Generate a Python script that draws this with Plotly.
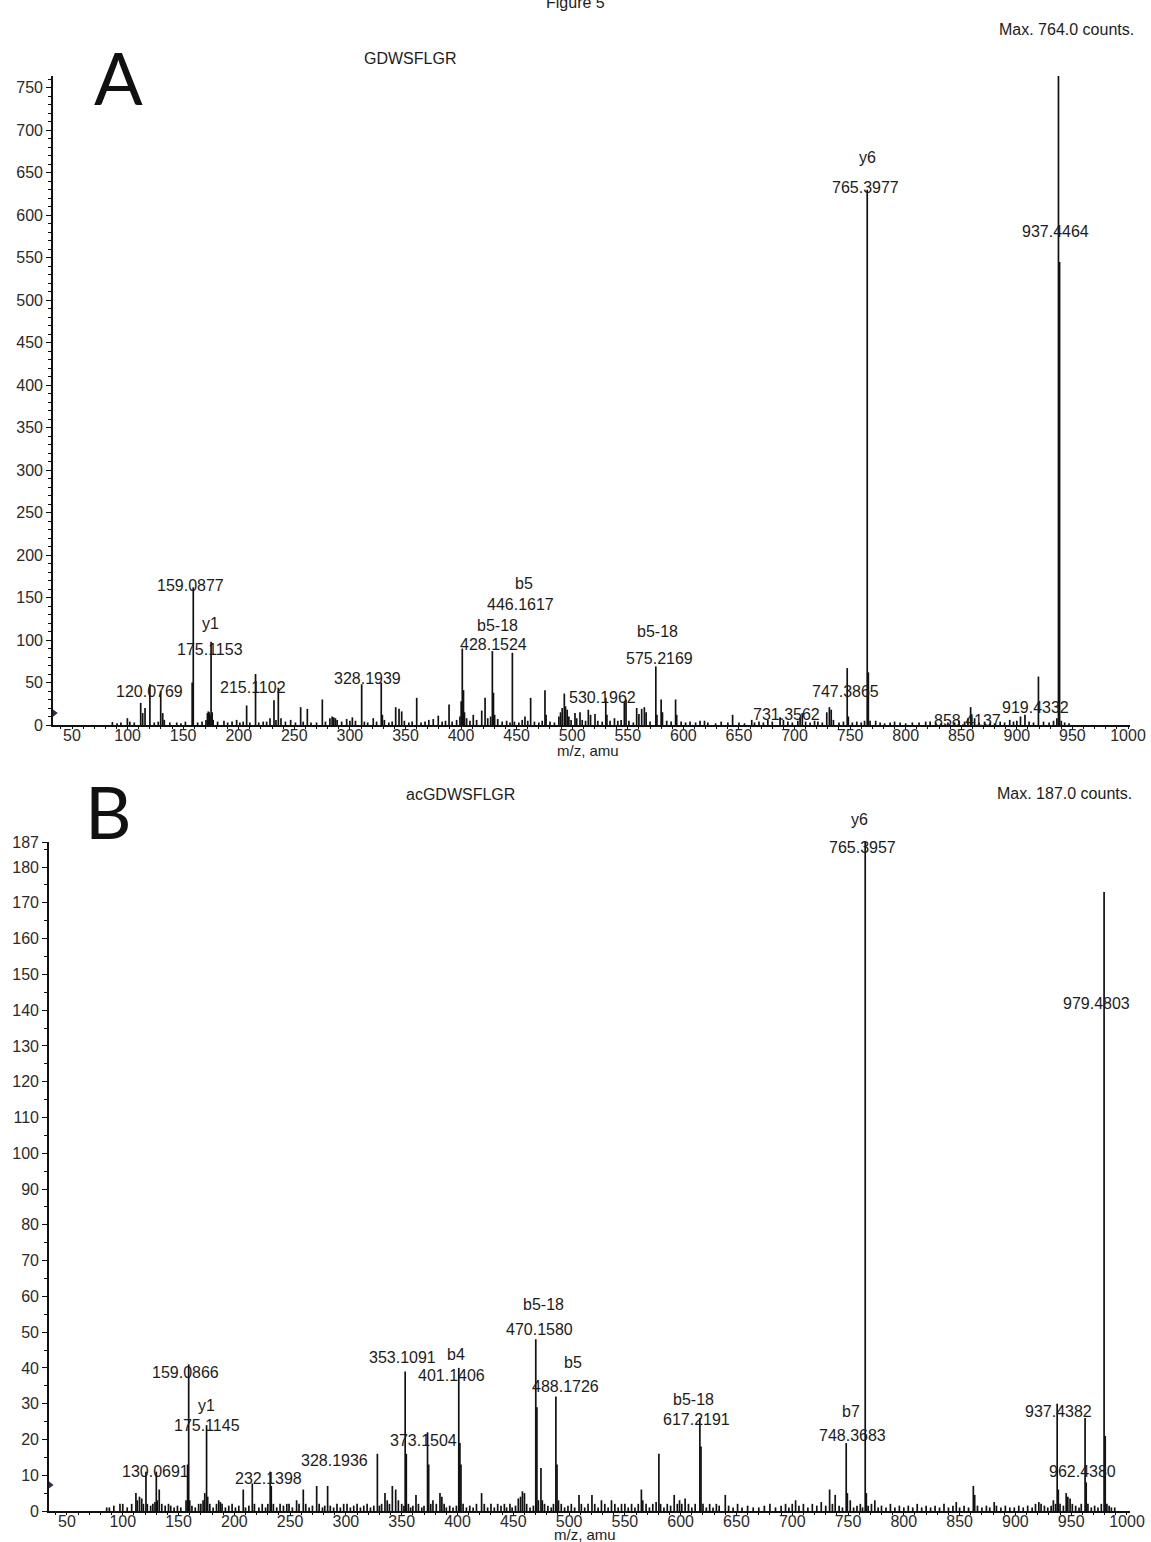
import plotly.graph_objects as go

W, H = 1151, 1542
FONT = "Liberation Sans, Arial, sans-serif"
INK = "#1c1c1c"

# ---------------- Spectrum A: GDWSFLGR (peak m/z, counts) ----------------
a_mz = [
    86.3, 90.5, 94.0, 99.8, 102.0, 106.0, 111.8, 113.6, 115.7, 120.0769, 124.0, 127.6, 129.8, 131.6, 133.0,
    138.0, 144.2, 148.0, 152.0, 158.1, 159.0877, 163.0, 167.0, 170.5, 171.8, 172.6, 173.4, 174.2, 175.1153,
    176.1, 177.0, 181.0, 186.7, 190.0, 194.0, 198.1, 201.0, 204.0, 207.1, 210.0, 215.1102, 218.0, 222.0,
    225.1, 228.1, 231.7, 233.5, 235.6, 238.0, 242.0, 246.7, 251.0, 255.7, 258.0, 261.7, 265.0, 270.0,
    275.2, 278.0, 282.0, 284.0, 285.5, 287.0, 288.5, 292.6, 297.1, 300.0, 302.2, 305.0, 310.6, 313.0,
    316.0, 321.0, 324.0, 328.1939, 329.2, 331.0, 335.0, 338.0, 341.2, 344.2, 346.6, 349.0, 353.0, 356.0,
    360.1, 364.0, 367.6, 371.0, 375.0, 379.5, 383.0, 386.0, 389.2, 392.0, 396.0, 399.0, 400.1, 401.1,
    402.2, 403.1, 405.0, 408.0, 411.0, 414.0, 418.6, 421.6, 424.0, 426.6, 428.1524, 429.15, 430.2, 433.0,
    437.0, 441.0, 444.0, 446.1617, 448.0, 452.0, 455.0, 457.5, 460.0, 462.6, 466.0, 470.0, 473.0, 475.5,
    476.5, 480.0, 484.0, 488.0, 489.5, 491.0, 492.9, 494.0, 495.5, 497.0, 499.0, 502.5, 504.0, 507.0,
    509.0, 512.0, 514.5, 516.5, 520.5, 523.0, 527.0, 530.1962, 531.2, 534.0, 538.0, 541.0, 544.0, 546.9,
    548.4, 551.0, 555.0, 558.0, 560.0, 562.5, 564.9, 566.5, 570.0, 575.2169, 576.2, 580.0, 581.2, 585.0,
    589.0, 593.0, 594.0, 598.0, 602.0, 606.0, 611.0, 615.0, 619.0, 622.0, 629.0, 634.0, 640.0, 644.3,
    650.0, 655.0, 661.5, 664.0, 668.0, 672.0, 676.0, 680.0, 687.0, 690.0, 694.0, 698.0, 703.0, 705.0,
    707.0, 710.0, 714.0, 718.0, 721.0, 725.0, 729.0, 731.3562, 733.0, 735.0, 740.0, 744.0, 747.3865,
    748.4, 752.0, 756.0, 760.0, 763.0, 765.3977, 766.4, 768.0, 773.0, 777.0, 781.0, 786.0, 790.0, 795.0,
    800.0, 806.0, 812.0, 818.0, 822.0, 827.0, 832.0, 838.0, 844.0, 848.0, 853.0, 856.0, 858.4137, 859.4,
    862.0, 866.0, 871.0, 876.0, 880.0, 885.0, 889.0, 893.6, 897.0, 900.0, 903.3, 907.3, 911.0, 915.0,
    919.4332, 924.0, 929.0, 933.0, 936.0, 937.4464, 938.45, 940.0, 943.0, 947.0,
]
a_counts = [
    3.5, 2, 3, 8, 4, 3, 26, 14, 20, 48, 3, 4, 40, 14, 6,
    3, 3, 2, 4, 50, 162, 3, 4, 6, 14, 16, 15, 12, 98,
    15, 6, 4, 5, 3, 4, 6, 3, 4, 23, 3, 60, 3, 4,
    4, 8, 29, 6, 44, 8, 4, 6, 3, 21, 4, 19, 3, 3,
    30, 4, 8, 10, 9, 8, 6, 4, 7, 5, 9, 5, 48, 4,
    3, 8, 4, 50, 12, 6, 3, 4, 21, 19, 16, 5, 3, 4,
    32, 3, 4, 6, 7, 11, 4, 5, 24, 4, 6, 10, 28, 90,
    41, 15, 8, 5, 12, 6, 17, 32, 8, 10, 87, 38, 12, 7,
    4, 5, 3, 85, 4, 3, 6, 10, 5, 32, 4, 3, 5, 41,
    12, 4, 3, 10, 15, 20, 37, 22, 18, 10, 6, 14, 8, 15,
    6, 5, 18, 12, 13, 5, 4, 32, 12, 5, 8, 5, 6, 27,
    30, 5, 3, 20, 13, 19, 21, 15, 4, 69, 12, 30, 15, 5,
    4, 30, 12, 4, 3, 4, 3, 5, 5, 3, 2, 4, 3, 12,
    3, 2, 6, 3, 4, 3, 6, 4, 9, 6, 4, 3, 5, 9,
    14, 4, 3, 5, 4, 3, 15, 21, 18, 6, 3, 4, 67,
    10, 3, 4, 3, 5, 630, 62, 5, 5, 3, 2, 3, 4, 3,
    2, 3, 3, 4, 4, 3, 2, 3, 3, 5, 4, 8, 21, 12,
    8, 3, 4, 3, 2, 4, 3, 6, 4, 5, 10, 12, 4, 3,
    57, 4, 3, 5, 8, 764, 545, 5, 3, 2,
]
a_label_mz = [120.0769, 159.0877, 175.1153, 215.1102, 328.1939, 428.1524, 446.1617, 530.1962,
              575.2169, 731.3562, 747.3865, 765.3977, 858.4137, 919.4332, 937.4464]
a_label_ion = ["", "", "y1", "", "", "b5-18", "b5", "", "b5-18", "", "", "y6", "", "", ""]

# ---------------- Spectrum B: acGDWSFLGR (peak m/z, counts) ----------------
b_mz = [
    85.6, 88.0, 92.0, 97.5, 100.0, 104.0, 108.0, 111.8, 113.0, 115.0, 117.0, 118.5, 120.8, 122.0, 125.0,
    127.0, 128.9, 130.0691, 131.0, 132.7, 135.0, 138.0, 141.0, 143.0, 146.0, 149.0, 152.0, 156.7, 158.1,
    159.0866, 160.0, 162.0, 165.0, 168.0, 170.0, 172.0, 173.5, 175.1145, 176.1, 178.0, 181.0, 184.0,
    186.0, 187.5, 189.0, 192.0, 195.0, 198.0, 201.0, 204.0, 208.0, 210.0, 213.0, 216.1, 218.0, 222.0,
    225.0, 228.0, 230.0, 232.1398, 233.1, 235.0, 238.0, 241.0, 244.0, 247.0, 249.0, 252.0, 255.8, 258.0,
    261.8, 264.0, 267.0, 270.0, 273.8, 276.0, 279.0, 281.0, 283.6, 286.0, 289.0, 292.0, 295.0, 298.0,
    301.0, 304.0, 307.0, 310.0, 313.0, 316.0, 319.0, 322.0, 325.0, 328.1936, 330.0, 332.0, 335.0, 337.0,
    339.0, 341.6, 344.6, 347.0, 350.0, 352.0, 353.1091, 354.11, 356.0, 358.0, 360.0, 362.8, 365.0, 368.0,
    370.0, 373.1504, 374.15, 376.0, 378.0, 381.0, 384.3, 386.0, 388.0, 390.0, 393.0, 396.0, 399.0,
    401.1406, 402.14, 403.1, 405.0, 408.0, 411.0, 414.0, 417.0, 421.6, 424.0, 427.0, 430.0, 433.0, 436.0,
    439.0, 442.0, 444.0, 447.0, 449.0, 452.0, 454.5, 456.5, 458.2, 460.0, 462.0, 465.0, 468.0, 470.158,
    471.16, 472.5, 474.8, 476.0, 478.0, 481.0, 484.0, 486.0, 488.1726, 489.17, 490.5, 493.0, 496.0, 499.0,
    502.0, 505.0, 508.9, 511.0, 514.0, 517.0, 520.5, 523.0, 526.0, 529.0, 532.0, 535.0, 538.0, 541.0,
    544.0, 547.0, 550.0, 553.0, 556.0, 559.0, 562.0, 564.8, 566.0, 569.0, 572.0, 575.0, 578.0, 580.5,
    582.0, 585.0, 588.0, 591.0, 594.2, 597.0, 599.0, 601.0, 604.0, 607.0, 610.0, 613.0, 617.2191, 618.22,
    620.0, 623.0, 626.0, 629.0, 632.0, 634.5, 640.0, 643.0, 647.0, 651.0, 655.0, 660.0, 665.0, 670.0,
    675.0, 680.0, 685.0, 690.0, 694.0, 697.0, 700.0, 703.0, 706.0, 710.0, 714.0, 718.0, 722.0, 726.0,
    730.0, 733.5, 736.0, 738.5, 742.0, 745.0, 748.3683, 749.4, 752.0, 755.0, 758.0, 761.0, 763.0,
    765.3957, 766.4, 768.0, 771.0, 774.0, 777.0, 780.0, 784.0, 788.0, 792.0, 796.0, 800.0, 804.0, 808.0,
    812.0, 816.0, 820.0, 824.0, 828.0, 832.0, 836.0, 840.0, 844.0, 847.0, 850.0, 854.0, 858.0, 862.3,
    863.5, 866.0, 870.0, 874.0, 877.0, 881.0, 883.0, 887.0, 891.0, 895.0, 899.0, 903.0, 907.0, 911.0,
    915.0, 918.0, 921.0, 923.0, 926.0, 929.0, 932.0, 934.0, 936.0, 937.4382, 938.44, 940.0, 943.0,
    945.5, 947.0, 949.0, 951.0, 954.0, 957.0, 959.0, 962.438, 963.44, 965.0, 968.0, 971.0, 974.0, 977.0,
    979.4803, 980.48, 982.0, 984.0, 986.0, 989.0,
]
b_counts = [
    1, 1, 1.5, 2, 2, 1, 2, 5, 3, 4, 3.5, 2, 11, 2, 1.5,
    2, 2.5, 11, 3, 6, 2, 1.5, 2, 1.5, 1, 1.5, 1, 3, 13,
    41, 3, 1.5, 1, 2, 2, 3, 5, 24, 4, 2, 1, 2,
    3, 2.5, 2, 1, 1.5, 2, 1, 1.5, 6, 1, 1.5, 7.7, 2, 1,
    2, 1, 2, 11, 7, 2, 1, 2, 1.5, 2, 2, 1, 3, 2,
    6, 2, 1, 1.5, 7, 2, 1, 1.5, 7, 1.5, 1, 2, 1, 2,
    2, 1, 1.5, 2, 1, 1.5, 2, 1, 1.5, 16, 1.5, 2, 5, 3,
    2, 7, 6, 3, 2, 1.5, 39, 16, 2, 1, 1.5, 4.5, 2, 1,
    1.5, 22, 13, 2, 3, 2, 5, 4, 2, 1, 1.5, 1, 1.5,
    40, 19, 13, 2, 1, 1.5, 1, 2, 5, 2, 1, 2, 1, 2,
    1.5, 2, 1, 2, 1, 1.5, 3.5, 4, 5.5, 5, 2, 1, 1.5, 48,
    29, 3, 12, 3, 2, 1.5, 1, 2, 32, 13, 3, 2, 1, 1.5,
    2, 1, 4.5, 2, 1, 2, 4.5, 2, 1, 3, 2, 1, 3, 2,
    1, 2, 2, 1, 2, 1, 2, 6, 3, 2, 1, 2, 2.5, 16,
    2, 1, 2, 1.5, 4.5, 2, 3, 2, 3.5, 2, 1, 2, 26, 18,
    2, 1, 2, 1, 2, 1.5, 4.5, 1.5, 1, 2, 1, 1.5, 1, 1,
    1.5, 2, 1, 1.5, 2, 1, 2, 3, 1.5, 2, 1, 2, 1.5, 2.5,
    1.5, 6, 2, 4.5, 1.5, 1, 19, 5, 3, 1, 1.5, 2, 1,
    187, 5, 1.5, 2, 3, 1, 1.5, 1, 2, 1, 1.5, 1, 1.5, 1,
    2, 1, 1.5, 1, 1.5, 1, 2, 1, 1.5, 2.5, 1, 1.5, 1, 7,
    4.5, 1.5, 1, 1.5, 1, 2.5, 1.5, 1, 1.5, 1, 1, 1.5, 1, 1.5,
    1, 2, 2.5, 2, 1.5, 1, 1.5, 3, 2, 30, 6, 2, 1.5,
    5, 4, 3.5, 2, 1.5, 1, 2, 26, 8, 2, 1, 1.5, 1, 2,
    173, 21, 2, 1.5, 1, 1,
]
b_label_mz = [130.0691, 159.0866, 175.1145, 232.1398, 328.1936, 353.1091, 373.1504, 401.1406,
              470.1580, 488.1726, 617.2191, 748.3683, 765.3957, 937.4382, 962.4380, 979.4803]
b_label_ion = ["", "", "y1", "", "", "", "", "b4", "b5-18", "b5", "b5-18", "b7", "y6", "", "", ""]

# label placement in pixels: (dx, dy below peak top, ion-name dx, ion-name gap above)
A_PLACE = [(0, 7, 0, 0), (-3, -2, 0, 0), (-1, 8, 0, 26), (-3, 13, 0, 0), (-14, -4, 0, 0),
           (1, -7, 4, 19), (8, -48, 4, 21), (-3, 0, 0, 0), (4, -8, -2, 27), (-43, 7, 0, 0),
           (-2, 23, 0, 0), (-2, -2, 2, 30), (-3, 13, 0, 0), (-3, 31, 0, 0), (-3, 155, 0, 0)]
B_PLACE = [(-1, 0, 0, 0), (-3, 8, 0, 0), (0, 0, 0, 20), (-2, 7, 0, 0), (-43, 7, 0, 0),
           (-3, -14, 0, 0), (-4, 8, 0, 0), (-7, 8, 4, 21), (4, -10, 4, 25), (10, -10, 7, 24),
           (-3, 2, -3, 20), (6, -8, -1, 24), (-3, 6, -3, 28), (1, 8, 0, 0), (-3, 54, 0, 0),
           (-8, 111, 0, 0)]


def sticks(mz, counts):
    xs, ys = [], []
    for m, c in zip(mz, counts):
        xs += [m, m, None]
        ys += [0, c, None]
    return xs, ys


def px_x(p):
    return p / W


def px_y(p):
    return 1 - p / H


fig = go.Figure()

ax_, ay_ = sticks(a_mz, a_counts)
bx_, by_ = sticks(b_mz, b_counts)
fig.add_trace(go.Scatter(x=ax_, y=ay_, mode="lines", line=dict(color="#111", width=1.7),
                         xaxis="x", yaxis="y", hoverinfo="skip", showlegend=False))
fig.add_trace(go.Scatter(x=bx_, y=by_, mode="lines", line=dict(color="#111", width=1.7),
                         xaxis="x2", yaxis="y2", hoverinfo="skip", showlegend=False))

# small threshold markers at the left edge of each intensity axis
fig.add_trace(go.Scatter(x=[33.6], y=[14], mode="markers", xaxis="x", yaxis="y", cliponaxis=False,
                         marker=dict(symbol="triangle-right", size=8, color="#2b2f5e"),
                         hoverinfo="skip", showlegend=False))
fig.add_trace(go.Scatter(x=[34.4], y=[7.3], mode="markers", xaxis="x2", yaxis="y2", cliponaxis=False,
                         marker=dict(symbol="triangle-right", size=8, color="#2b2f5e"),
                         hoverinfo="skip", showlegend=False))

tickfont = dict(family=FONT, size=16, color="#2a2a2a")
xticks = list(range(50, 1001, 50))


def xaxis_cfg(dom, rng, anchor):
    return dict(domain=dom, range=rng, anchor=anchor, showline=True, linecolor="#111", linewidth=2.2,
                ticks="outside", ticklen=2, tickwidth=1.2, tickcolor="#111", tickvals=xticks,
                ticktext=[str(v) for v in xticks], tickfont=tickfont, showgrid=False, zeroline=False,
                minor=dict(dtick=10, tick0=0, ticks="outside", ticklen=2, tickcolor="#111"),
                ticklabelstandoff=-7, automargin=False, fixedrange=True)


def yaxis_cfg(dom, rng, anchor, tv, mdt):
    return dict(domain=dom, range=rng, anchor=anchor, showline=True, linecolor="#111", linewidth=1.6,
                ticks="outside", ticklen=5, tickwidth=1.2, tickcolor="#111", tickvals=tv,
                ticktext=[str(v) for v in tv], tickfont=tickfont, showgrid=False, zeroline=False,
                minor=dict(dtick=mdt, tick0=0, ticks="outside", ticklen=3, tickcolor="#111"),
                automargin=False, fixedrange=True)


fig.update_layout(
    width=W, height=H, margin=dict(l=0, r=0, t=0, b=0, pad=0, autoexpand=False),
    paper_bgcolor="white", plot_bgcolor="white",
    xaxis=xaxis_cfg([px_x(53), px_x(1130)], [32.9, 1001.8], "y"),
    yaxis=yaxis_cfg([px_y(725), px_y(76)], [0, 764], "x", list(range(0, 751, 50)), 10),
    xaxis2=xaxis_cfg([px_x(49), px_x(1130)], [33.9, 1002.7], "y2"),
    yaxis2=yaxis_cfg([px_y(1511), px_y(842)], [0, 187], "x2", list(range(0, 181, 10)) + [187], 5),
)

ann = []
lab_font = dict(family=FONT, size=16, color=INK)


def peak_labels(mz_list, cnt_list, lab_mz, lab_ion, place, xr, yr):
    lookup = dict(zip(mz_list, cnt_list))
    for m, ion, (dx, dy, idx, gap) in zip(lab_mz, lab_ion, place):
        h = lookup[m]
        ann.append(dict(x=m, y=h, xref=xr, yref=yr, text=f"{m:.4f}", showarrow=False,
                        xshift=dx, yshift=-dy, xanchor="center", yanchor="middle", font=lab_font))
        if ion:
            ann.append(dict(x=m, y=h, xref=xr, yref=yr, text=ion, showarrow=False,
                            xshift=dx + idx, yshift=-dy + gap, xanchor="center", yanchor="middle",
                            font=lab_font))


peak_labels(a_mz, a_counts, a_label_mz, a_label_ion, A_PLACE, "x", "y")
peak_labels(b_mz, b_counts, b_label_mz, b_label_ion, B_PLACE, "x2", "y2")


def text_at(t, xp, yp, size, anchor="center", family=FONT, color=INK):
    ann.append(dict(x=px_x(xp), y=px_y(yp), xref="paper", yref="paper", text=t, showarrow=False,
                    xanchor=anchor, yanchor="middle", font=dict(family=family, size=size, color=color)))


# page heading sits at the very top edge of the page
text_at("Figure 5", 575, 3, 16)
text_at("Max. 764.0 counts.", 1136, 29, 16, anchor="right")
text_at("GDWSFLGR", 410, 59, 16)
text_at("A", 118, 77, 72, family="Lato, Liberation Sans, sans-serif", color="#111")
text_at("m/z, amu", 588, 750, 15)
text_at("Max. 187.0 counts.", 1134, 794, 16, anchor="right")
text_at("acGDWSFLGR", 460, 795, 16)
text_at("B", 108, 811, 72, family="Lato, Liberation Sans, sans-serif", color="#111")
text_at("m/z, amu", 585, 1534, 15)

fig.update_layout(annotations=ann)
# page without default body margin so the 1151x1542 figure fills the window exactly
fig.write_html("out.html", config={"responsive": False, "displayModeBar": False},
               post_script="document.body.style.margin='0';document.body.style.overflow='hidden';")
